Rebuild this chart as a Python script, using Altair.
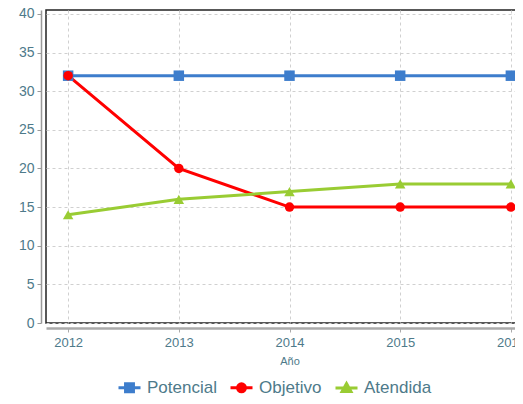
import altair as alt
import pandas as pd

years = [2012, 2013, 2014, 2015, 2016]
series = ["Potencial", "Objetivo", "Atendida"]
potencial = [32, 32, 32, 32, 32]
objetivo = [32, 20, 15, 15, 15]
atendida = [14, 16, 17, 18, 18]
y_ticks = [0, 5, 10, 15, 20, 25, 30, 35, 40]
colors = ["#3d7dcc", "#ff0000", "#99cc33"]
shapes = ["square", "circle", "triangle-up"]
legend_paths = [
    "M-1,0H1M-0.36,-0.36H0.36V0.36H-0.36Z",
    "M-1,0H1M0.36,0A0.36,0.36,0,1,1,-0.36,0A0.36,0.36,0,1,1,0.36,0Z",
    "M-1,0H1M0,-0.42L0.4,0.3H-0.4Z",
]

rows = []
for name, vals in zip(series, [potencial, objetivo, atendida]):
    for yr, v in zip(years, vals):
        rows.append({"Año": yr, "Valor": v, "Serie": name})
df = pd.DataFrame(rows)

text_color = "#4e7a8a"

x = alt.X(
    "Año:Q",
    scale=alt.Scale(domain=[2011.8, 2016.2], nice=False, zero=False),
    axis=alt.Axis(
        values=years, format="d", title="Año", titleFontSize=11,
        titleFontWeight="normal", titleColor=text_color, titlePadding=6,
        labelFontSize=13, labelColor=text_color, labelPadding=4,
        offset=5, domainColor="#aaaaaa", domainWidth=2.5,
        tickColor="#aaaaaa", tickSize=4, tickWidth=1,
        grid=True, gridDash=[3, 3], gridColor="#d0d0d0",
    ),
)
y = alt.Y(
    "Valor:Q",
    scale=alt.Scale(domain=[0, 40.5], nice=False),
    axis=alt.Axis(
        values=y_ticks, title=None, labelFontSize=14, labelColor=text_color,
        labelPadding=3, offset=5, domainColor="#999999", domainWidth=1.5,
        tickColor="#999999", tickSize=4, grid=True, gridDash=[3, 3],
        gridColor="#d0d0d0",
    ),
)

color_scale = alt.Scale(domain=series, range=colors)

leg = alt.Legend(
    title=None, orient="none", legendX=71, legendY=365, direction="horizontal",
    labelFontSize=17, labelColor=text_color, symbolSize=484, symbolStrokeWidth=3,
    symbolOpacity=1, labelOffset=5, columnPadding=7,
)
legend_layer = alt.Chart(df).mark_point(opacity=0, filled=True, strokeWidth=3).encode(
    x=x, y=y,
    fill=alt.Fill("Serie:N", scale=color_scale, legend=leg),
    stroke=alt.Stroke("Serie:N", scale=color_scale, legend=leg),
    shape=alt.Shape("Serie:N", scale=alt.Scale(domain=series, range=legend_paths), legend=leg),
)

lines = alt.Chart(df).mark_line(strokeWidth=3).encode(
    x=x, y=y, stroke=alt.Stroke("Serie:N", scale=color_scale, legend=None)
)

point_layers = []
for s, sh, sz in zip(series, shapes, [110, 90, 110]):
    point_layers.append(
        alt.Chart(df)
        .transform_filter(alt.datum.Serie == s)
        .mark_point(shape=sh, filled=True, size=sz, opacity=1)
        .encode(x=x, y=y, fill=alt.Fill("Serie:N", scale=color_scale, legend=None))
    )

chart = (
    alt.layer(legend_layer, lines, *point_layers)
    .properties(
        width=487, height=313,
        autosize=alt.AutoSizeParams(type="none"),
        padding={"left": 38, "top": 2, "right": -18, "bottom": 73},
    )
    .configure(font="Liberation Sans")
    .configure_view(stroke="#222222", strokeWidth=1.5)
)

chart.save("out.html", embed_options={"renderer": "svg", "actions": False})
